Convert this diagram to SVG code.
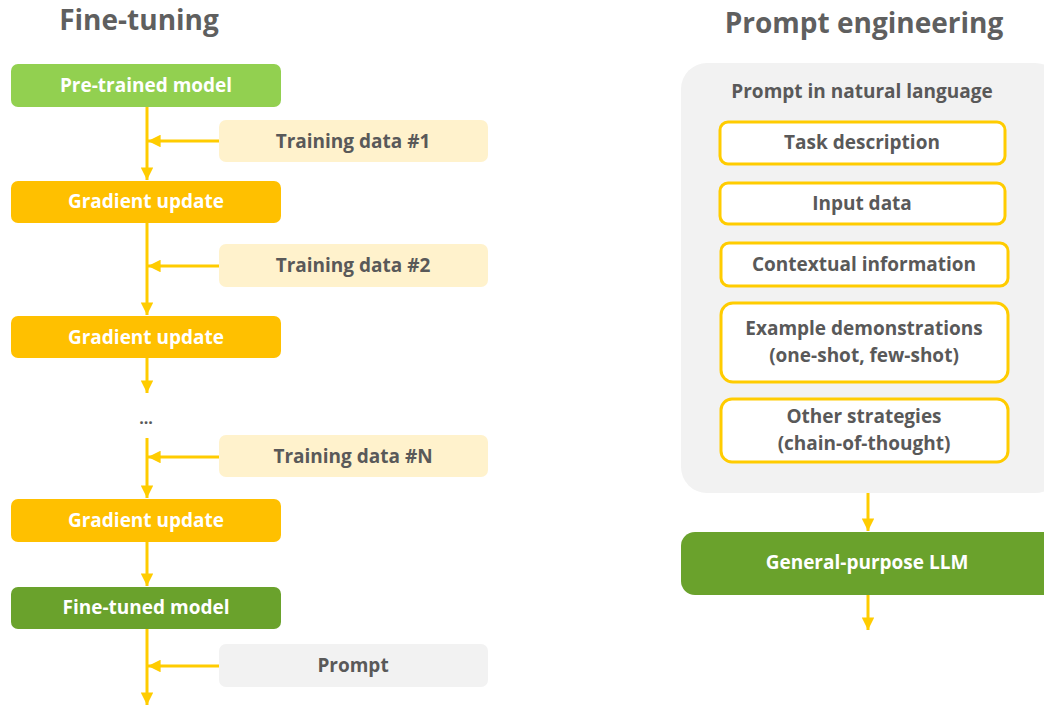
<svg xmlns="http://www.w3.org/2000/svg" width="1044" height="707" viewBox="0 0 1044 707">
<style>
text{font-family:"Open Sans","Noto Sans","Liberation Sans",sans-serif;font-weight:bold;text-anchor:middle}
.title{font-size:28px;fill:#5f5f5f}
.wt{font-size:19px;fill:#ffffff}
.gt{font-size:19px;fill:#595959}
.line{stroke:#ffcc00;stroke-width:3;fill:none}
.item{fill:#ffffff;stroke:#ffcc00;stroke-width:3}
.data{fill:#fff2cc}
.upd{fill:#ffc000}
</style>
<defs>
<marker id="ah" viewBox="0 0 10 10" refX="10" refY="5" markerWidth="4.2" markerHeight="4.2" orient="auto" markerUnits="strokeWidth">
<path d="M0,0 L10,5 L0,10 z" fill="#ffcc00"/>
</marker>
</defs>
<text class="title" x="139" y="30">Fine-tuning</text>
<text class="title" x="864" y="33">Prompt engineering</text>
<g id="connectors">
<path class="line" d="M147,107 V180" marker-end="url(#ah)"/>
<path class="line" d="M219,141 H148" marker-end="url(#ah)"/>
<path class="line" d="M147,223 V315" marker-end="url(#ah)"/>
<path class="line" d="M219,266 H148" marker-end="url(#ah)"/>
<path class="line" d="M147,358 V393" marker-end="url(#ah)"/>
<path class="line" d="M147,438 V498" marker-end="url(#ah)"/>
<path class="line" d="M219,457 H148" marker-end="url(#ah)"/>
<path class="line" d="M147,542 V586" marker-end="url(#ah)"/>
<path class="line" d="M147,629 V705" marker-end="url(#ah)"/>
<path class="line" d="M219,666 H148" marker-end="url(#ah)"/>
<path class="line" d="M868,493 V531" marker-end="url(#ah)"/>
<path class="line" d="M868,595 V630" marker-end="url(#ah)"/>
</g>
<g id="pretrained"><rect x="11" y="64" width="270" height="43" rx="7" fill="#92d050"/><text class="wt" x="146" y="92">Pre-trained model</text></g>
<g id="data1"><rect class="data" x="219" y="120" width="269" height="42" rx="7"/><text class="gt" x="353" y="148">Training data #1</text></g>
<g id="update1"><rect class="upd" x="11" y="181" width="270" height="42" rx="7"/><text class="wt" x="146" y="208">Gradient update</text></g>
<g id="data2"><rect class="data" x="219" y="244" width="269" height="43" rx="7"/><text class="gt" x="353" y="272">Training data #2</text></g>
<g id="update2"><rect class="upd" x="11" y="316" width="270" height="42" rx="7"/><text class="wt" x="146" y="344">Gradient update</text></g>
<g id="ellipsis"><text class="gt" x="146" y="424" style="font-size:16px">...</text></g>
<g id="dataN"><rect class="data" x="219" y="435" width="269" height="42" rx="7"/><text class="gt" x="353" y="463">Training data #N</text></g>
<g id="update3"><rect class="upd" x="11" y="499" width="270" height="43" rx="7"/><text class="wt" x="146" y="527">Gradient update</text></g>
<g id="finetuned"><rect x="11" y="587" width="270" height="42" rx="7" fill="#6aa22c"/><text class="wt" x="146" y="614">Fine-tuned model</text></g>
<g id="prompt"><rect x="219" y="644" width="269" height="43" rx="7" fill="#f2f2f2"/><text class="gt" x="353" y="672">Prompt</text></g>
<g id="panel"><rect x="681" y="63" width="380" height="430" rx="26" fill="#f2f2f2"/><text class="gt" x="862" y="98">Prompt in natural language</text></g>
<g id="task"><rect class="item" x="720" y="122" width="285" height="42" rx="8"/><text class="gt" x="862" y="149">Task description</text></g>
<g id="input"><rect class="item" x="720" y="183" width="285" height="41" rx="8"/><text class="gt" x="862" y="210">Input data</text></g>
<g id="context"><rect class="item" x="721" y="243" width="287" height="43" rx="8"/><text class="gt" x="864" y="271">Contextual information</text></g>
<g id="examples"><rect class="item" x="721" y="303" width="287" height="79" rx="12"/><text class="gt" x="864" y="335">Example demonstrations</text><text class="gt" x="864" y="362">(one-shot, few-shot)</text></g>
<g id="other"><rect class="item" x="721" y="399" width="287" height="63" rx="11"/><text class="gt" x="864" y="423">Other strategies</text><text class="gt" x="864" y="450">(chain-of-thought)</text></g>
<g id="llm"><rect x="681" y="532" width="380" height="63" rx="14" fill="#6aa22c"/><text class="wt" x="867" y="569">General-purpose LLM</text></g>
</svg>
